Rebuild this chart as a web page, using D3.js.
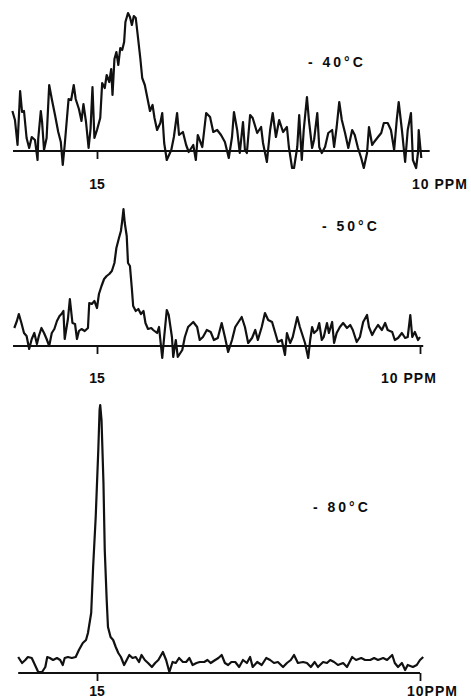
<!DOCTYPE html>
<html>
<head>
<meta charset="utf-8">
<script src="https://cdn.jsdelivr.net/npm/d3@7"></script>
<style>
  body { margin: 0; background: #fff; }
  .lbl { font-family: "Liberation Sans", Arial, sans-serif; font-weight: bold; fill: #0d0d0d; }
  .trace { fill: none; stroke: #111; stroke-width: 2.2; stroke-linejoin: round; }
  .base { stroke: #111; stroke-width: 2.2; }
</style>
</head>
<body>
<svg id="chart"></svg>
<script>
// chemical shift (ppm) and signal height (arb. units)
var ppm40 = [16.31,16.27,16.23,16.19,16.16,16.13,16.09,16.05,16.01,15.96,
  15.92,15.91,15.87,15.85,15.82,15.78,15.74,15.70,15.65,15.60,
  15.56,15.53,15.50,15.44,15.40,15.36,15.33,15.28,15.24,15.21,
  15.17,15.13,15.10,15.07,15.04,15.00,14.95,14.92,14.88,14.85,
  14.81,14.78,14.76,14.73,14.70,14.67,14.64,14.61,14.58,14.56,
  14.52,14.49,14.46,14.43,14.40,14.37,14.33,14.30,14.26,14.22,
  14.18,14.14,14.11,14.07,14.02,13.99,13.96,13.92,13.85,13.81,
  13.76,13.73,13.67,13.62,13.58,13.51,13.47,13.44,13.37,13.31,
  13.25,13.20,13.14,13.08,13.02,12.96,12.91,12.88,12.83,12.79,
  12.74,12.71,12.68,12.63,12.59,12.52,12.46,12.43,12.37,12.32,
  12.28,12.23,12.18,12.12,12.06,12.03,11.98,11.95,11.90,11.87,
  11.83,11.80,11.75,11.72,11.67,11.64,11.59,11.56,11.52,11.47,
  11.42,11.36,11.33,11.29,11.25,11.21,11.16,11.11,11.05,11.01,
  10.96,10.91,10.87,10.82,10.79,10.74,10.71,10.65,10.60,10.56,
  10.50,10.45,10.40,10.36,10.33,10.28,10.23,10.19,10.14,10.11,
  10.06,10.03,10.02,9.98];
var amp40 = [40,31,6,60,39,40,13,3,14,11,
  -9,12,40,29,1,13,66,52,36,19,
  9,-14,6,52,51,66,52,42,30,47,
  29,3,22,64,13,21,33,68,63,76,
  69,82,56,92,99,86,103,101,109,129,
  138,134,126,135,133,116,93,73,66,53,
  40,46,33,21,28,38,8,-9,1,14,
  38,16,19,6,-1,6,-9,16,4,38,
  34,19,21,16,9,-7,14,39,21,-2,
  29,1,-2,36,33,18,24,8,-11,21,
  38,14,31,19,24,4,-17,-17,4,36,
  -9,21,54,31,3,11,38,4,-2,4,
  18,21,4,24,49,31,18,3,21,16,
  3,-7,-17,-2,24,6,9,14,18,28,
  28,21,1,31,49,21,-11,21,38,-9,
  -17,-1,21,-7];

var ppm50 = [16.28,16.24,16.21,16.17,16.13,16.09,16.05,16.01,15.97,15.93,
  15.90,15.86,15.82,15.78,15.74,15.70,15.66,15.62,15.58,15.55,
  15.52,15.50,15.45,15.42,15.38,15.34,15.31,15.28,15.24,15.19,
  15.14,15.12,15.08,15.04,15.00,14.97,14.93,14.89,14.85,14.81,
  14.77,14.73,14.70,14.66,14.63,14.61,14.59,14.57,14.54,14.52,
  14.49,14.46,14.44,14.40,14.36,14.32,14.28,14.25,14.21,14.16,
  14.13,14.07,14.04,13.99,13.96,13.92,13.89,13.84,13.82,13.78,
  13.75,13.68,13.64,13.59,13.51,13.45,13.41,13.36,13.30,13.24,
  13.19,13.13,13.07,13.02,12.97,12.91,12.86,12.82,12.76,12.71,
  12.66,12.60,12.55,12.51,12.45,12.40,12.35,12.29,12.24,12.20,
  12.14,12.09,12.06,12.01,11.97,11.90,11.86,11.83,11.78,11.73,
  11.70,11.67,11.64,11.59,11.56,11.52,11.49,11.44,11.41,11.36,
  11.33,11.29,11.24,11.19,11.13,11.08,11.04,10.98,10.93,10.88,
  10.82,10.79,10.74,10.70,10.65,10.59,10.54,10.50,10.43,10.39,
  10.34,10.28,10.23,10.19,10.15,10.12,10.08,10.03,10.00];
var amp50 = [18,25,32,23,13,10,-3,7,13,2,
  10,18,13,7,0,13,17,25,30,32,
  35,7,27,47,23,22,7,15,17,15,
  18,43,42,45,38,52,60,67,70,72,
  75,83,98,108,115,125,137,123,110,83,
  80,57,40,35,37,32,35,23,17,18,
  16,13,19,-12,9,36,31,9,-11,6,
  -11,-4,9,19,24,19,6,9,16,14,
  6,8,23,9,-6,6,19,23,29,19,
  3,8,16,6,19,33,26,24,13,4,
  6,-9,13,3,9,29,19,13,3,-12,
  6,19,13,16,23,6,9,23,13,24,
  3,13,19,23,18,21,16,4,9,24,
  31,19,11,16,21,16,23,16,14,6,
  8,13,8,9,31,9,14,6,9];

var ppm80 = [16.22,16.16,16.11,16.07,16.01,15.96,15.91,15.85,15.80,15.77,
  15.73,15.68,15.62,15.57,15.53,15.50,15.45,15.39,15.33,15.28,
  15.22,15.17,15.14,15.09,15.06,15.02,14.98,14.96,14.95,14.93,
  14.90,14.88,14.85,14.83,14.79,14.75,14.71,14.67,14.63,14.58,
  14.54,14.50,14.45,14.40,14.35,14.31,14.26,14.21,14.15,14.10,
  14.05,13.98,13.93,13.88,13.83,13.78,13.73,13.67,13.62,13.57,
  13.52,13.46,13.41,13.34,13.29,13.24,13.17,13.12,13.07,13.02,
  12.97,12.92,12.86,12.80,12.74,12.68,12.63,12.59,12.52,12.45,
  12.38,12.32,12.26,12.20,12.12,12.06,12.00,11.95,11.89,11.81,
  11.75,11.69,11.63,11.58,11.50,11.44,11.39,11.33,11.27,11.19,
  11.13,11.05,10.99,10.91,10.85,10.77,10.71,10.65,10.57,10.51,
  10.43,10.39,10.34,10.28,10.23,10.19,10.11,10.05,10.00,9.95];
var amp80 = [16,10,13,16,15,8,1,1,6,16,
  15,13,15,13,8,15,16,15,16,23,
  30,33,40,60,106,156,223,263,268,253,
  190,123,73,46,36,33,26,20,16,8,
  13,18,15,16,11,18,13,10,6,10,
  13,21,13,1,11,10,15,11,11,15,
  8,10,11,11,13,10,13,15,18,10,
  8,11,11,6,13,10,16,6,11,8,
  15,13,10,11,6,10,13,18,10,11,
  10,6,11,6,11,10,13,11,8,10,
  6,16,13,15,13,13,15,13,15,13,
  18,10,6,10,3,8,6,8,13,16];

var temps = ['- 40°C', '- 50°C', '- 80°C'];
var spans = [[16.30, 9.85], [16.30, 9.95], [16.22, 10.00]];
var tickSets = [[15], [15, 10], [15, 10]];
var tickText = ['15', '10 PPM', '10PPM'];

width = 471;
height = 699;

var svg = d3.select('#chart').attr('width', width).attr('height', height);
svg.append('rect').attr('width', width).attr('height', height).attr('fill', '#fff');

var x = d3.scaleLinear().domain([15, 10]).range([97, 420]);

// where each spectrum sits on the page
var panels = [
  { ppm: ppm40, amp: amp40, base: 151, tempX: 308, tempY: 67, numY: 189, unitX: 412, unit: 1 },
  { ppm: ppm50, amp: amp50, base: 346, tempX: 322, tempY: 231, numY: 383, unitX: 381, unit: 1 },
  { ppm: ppm80, amp: amp80, base: 673, tempX: 313, tempY: 512, numY: 696, unitX: 407, unit: 2 }
];

panels.forEach(function(p, i) {
  var y = d3.scaleLinear().domain([0, 100]).range([p.base, p.base - 100]);
  var g = svg.append('g');

  g.append('line')
    .attr('class', 'base')
    .attr('x1', x(spans[i][0])).attr('x2', x(spans[i][1]))
    .attr('y1', y(0)).attr('y2', y(0));

  var axis = d3.axisBottom(x).tickValues(tickSets[i]).tickSize(8).tickFormat('');
  var ax = g.append('g').attr('transform', 'translate(0,' + y(0) + ')').call(axis);
  ax.select('.domain').remove();
  ax.selectAll('line').attr('stroke', '#111').attr('stroke-width', 1.8);

  var line = d3.line().x(d => x(d[0])).y(d => y(d[1]));
  g.append('path').attr('class', 'trace').attr('d', line(d3.zip(p.ppm, p.amp)));

  g.append('text').attr('class', 'lbl')
    .attr('x', p.tempX).attr('y', p.tempY)
    .style('font-size', '14px').style('letter-spacing', '3px')
    .text(temps[i]);

  g.append('text').attr('class', 'lbl')
    .attr('x', x(15)).attr('y', p.numY).attr('text-anchor', 'middle')
    .style('font-size', '14px')
    .text(tickText[0]);

  g.append('text').attr('class', 'lbl')
    .attr('x', p.unitX).attr('y', p.numY)
    .style('font-size', '14px').style('letter-spacing', '1px')
    .text(tickText[p.unit]);
});
</script>
</body>
</html>
